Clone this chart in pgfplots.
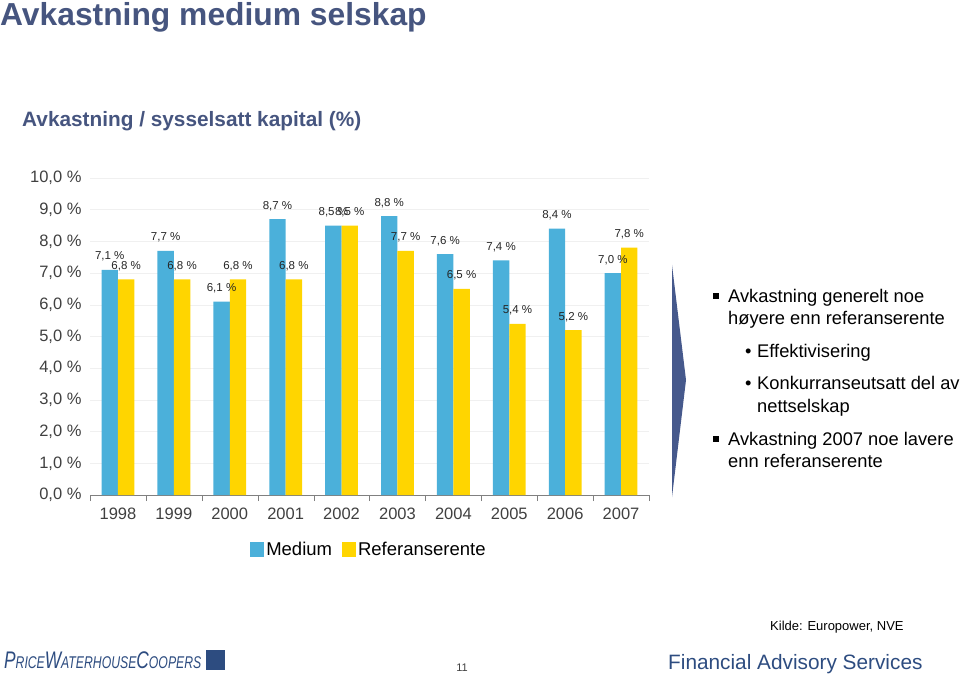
\documentclass[border=0pt]{standalone}
\usepackage{fontspec}
\setmainfont{Liberation Sans}
\usepackage{pgfplots}
\pgfplotsset{compat=1.18}
\definecolor{medBlue}{HTML}{4BB0DA}
\definecolor{refGul}{HTML}{FFD500}
\definecolor{tittel}{HTML}{46557F}
\definecolor{pilBla}{HTML}{46598C}
\definecolor{navy}{HTML}{2D4C80}
\definecolor{tekst}{HTML}{404040}
\newcommand{\fs}[1]{\fontsize{#1}{#1}\selectfont}

\begin{document}
\begin{tikzpicture}[x=1pt,y=1pt]
    \path[use as bounding box] (0,0) rectangle (960,678);

    % titler
    \node[anchor=west, inner sep=0, text=tittel, font=\fs{31.8}\bfseries] at (0,661) {Avkastning medium selskap};
    \node[anchor=west, inner sep=0, text=tittel, font=\fs{20.8}\bfseries] at (22,557) {Avkastning / sysselsatt kapital (\%)};

    \begin{axis}[
        at={(90pt,183pt)}, anchor=south west,
        scale only axis, width=559pt, height=317pt,
        ybar=0pt, bar width=16.4pt,
        xmin=-0.5, xmax=9.5, ymin=0, ymax=10,
        xtick={0,...,9},
        xticklabels={1998,1999,2000,2001,2002,2003,2004,2005,2006,2007},
        minor xtick={-0.5,0.5,...,9.5},
        ytick={0,...,10},
        major tick length=0pt, minor tick length=6pt, tick align=outside,
        axis x line*=bottom, axis y line*=left,
        x axis line style={draw=gray, -},
        y axis line style={draw=none},
        minor tick style={draw=gray},
        ymajorgrids, major grid style={draw=gray!12},
        /pgf/number format/assume math mode=true,
        yticklabel={\pgfmathprintnumber[fixed,fixed zerofill,precision=1,use comma]{\tick}~\%},
        y tick label style={font=\fs{16.5}, text=tekst, xshift=-5pt},
        x tick label style={font=\fs{16.5}, text=tekst, yshift=-9pt},
        nodes near coords={\pgfmathprintnumber[fixed,fixed zerofill,precision=1,use comma]{\pgfplotspointmeta}~\%},
        every node near coord/.append style={font=\fs{11.5}, text=black!85, yshift=5pt},
        legend style={at={(axis description cs:0.499,-0.1735)}, anchor=center, draw=none,
            font=\fs{18.5}, /tikz/every even column/.append style={column sep=8pt}},
        legend columns=2,
        legend image code/.code={\fill[#1] (0pt,-6.5pt) rectangle (14pt,8pt);},
    ]
        \addplot[fill=medBlue, draw=none] coordinates {(0,7.1) (1,7.7) (2,6.1) (3,8.7) (4,8.5) (5,8.8) (6,7.6) (7,7.4) (8,8.4) (9,7.0)};
        \addplot[fill=refGul, draw=none] coordinates {(0,6.8) (1,6.8) (2,6.8) (3,6.8) (4,8.5) (5,7.7) (6,6.5) (7,5.4) (8,5.2) (9,7.8)};
        \legend{Medium, Referanserente}
    \end{axis}

    % pil
    \fill[pilBla] (672,413) -- (686,298) -- (672,181) -- cycle;

    % punkter
    \begin{scope}[every node/.style={anchor=base west, inner sep=0, font=\fs{18.3}, text=black}]
        \fill (712.5,379) rectangle (718.5,385);
        \node at (728,375.5) {Avkastning generelt noe};
        \node at (728,353.5) {høyere enn referanserente};
        \node at (745,320.5) {\makebox[12pt][l]{•}Effektivisering};
        \node at (745,288.5) {\makebox[12pt][l]{•}Konkurranseutsatt del av};
        \node at (757,265.5) {nettselskap};
        \fill (712.5,236) rectangle (718.5,242);
        \node at (728,232.5) {Avkastning 2007 noe lavere};
        \node at (728,210.5) {enn referanserente};
    \end{scope}

    % bunntekst
    \node[anchor=west, inner sep=0, font=\fs{13}] at (770,51) {Kilde: Europower, NVE};
    \node[anchor=west, inner sep=0, xscale=0.72, text=navy, font=\itshape] at (4,18)
        {\fs{24}P\fs{17}RICE\fs{24}W\fs{17}ATERHOUSE\fs{24}C\fs{17}OOPERS};
    \fill[navy] (206,8) rectangle (225,28);
    \node[anchor=center, inner sep=0, font=\fs{11}, text=tekst] at (462,10) {11};
    \node[anchor=west, inner sep=0, font=\fs{20.8}, text=navy] at (668,14) {Financial Advisory Services};
\end{tikzpicture}
\end{document}
